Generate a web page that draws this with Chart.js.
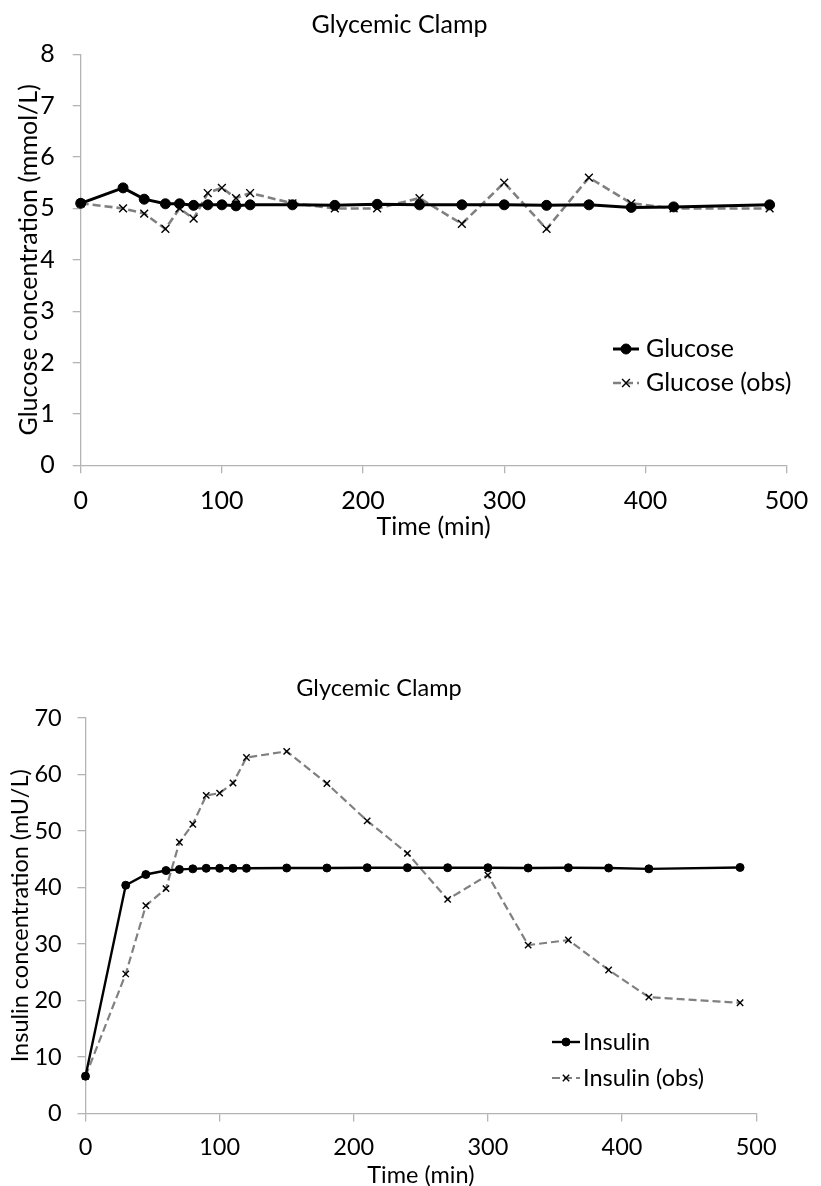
<!DOCTYPE html>
<html>
<head>
<meta charset="utf-8">
<script src="https://cdn.jsdelivr.net/npm/chart.js@4.4.1/dist/chart.umd.min.js"></script>
<style>
  html, body { margin: 0; padding: 0; background: #fff; overflow: hidden; }
  body { position: relative; width: 821px; height: 1186px; }
  canvas { position: absolute; left: 0; }
  #glucoseChart { top: 0; }
  #insulinChart { top: 640px; }
</style>
</head>
<body>
<canvas id="glucoseChart" width="821" height="560"></canvas>
<canvas id="insulinChart" width="788" height="560"></canvas>
<script>
// sampling times (min), shared by both panels
const times = [0, 30, 45, 60, 70, 80, 90, 100, 110, 120, 150, 180, 210, 240, 270, 300, 330, 360, 390, 420, 488];

// glucose (mmol/L)
const glucose    = [5.10, 5.40, 5.18, 5.09, 5.09, 5.06, 5.07, 5.07, 5.05, 5.07, 5.07, 5.06, 5.08, 5.07, 5.07, 5.07, 5.06, 5.07, 5.02, 5.03, 5.07];
const glucoseObs = [5.1, 5.0, 4.9, 4.6, 5.0, 4.8, 5.3, 5.4, 5.2, 5.3, 5.1, 5.0, 5.0, 5.2, 4.7, 5.5, 4.6, 5.6, 5.1, 5.0, 5.0];

// insulin (mU/L)
const insulin    = [6.6, 40.4, 42.3, 43.0, 43.2, 43.3, 43.4, 43.4, 43.4, 43.4, 43.45, 43.45, 43.5, 43.5, 43.5, 43.5, 43.45, 43.5, 43.45, 43.3, 43.55];
const insulinObs = [6.6, 24.7, 36.8, 39.8, 48.0, 51.2, 56.3, 56.7, 58.5, 63.0, 64.1, 58.4, 51.8, 46.05, 37.9, 42.2, 29.8, 30.7, 25.4, 20.6, 19.6];

const FONT = 'Lato, "Open Sans", sans-serif';
const AXIS_GREY = '#b4b4b4';

const toPoints = (ys) => times.map((t, i) => ({ x: t, y: ys[i] }));

// small legend drawn inside the plot, Excel style
const inlineLegend = {
    id: 'inlineLegend',
    afterDraw(chart, args, opts) {
        const ctx = chart.ctx;
        chart.data.datasets.forEach((ds, i) => {
            const y = opts.y + i * opts.gap;
            ctx.save();
            ctx.strokeStyle = ds.borderColor;
            ctx.lineWidth = ds.borderWidth;
            ctx.setLineDash(ds.borderDash || []);
            ctx.beginPath();
            ctx.moveTo(opts.x, y);
            ctx.lineTo(opts.x + opts.w, y);
            ctx.stroke();
            ctx.restore();

            ctx.save();
            ctx.fillStyle = ds.pointBackgroundColor;
            ctx.strokeStyle = ds.pointBorderColor;
            ctx.lineWidth = ds.pointBorderWidth;
            Chart.helpers.drawPoint(ctx, {
                pointStyle: ds.pointStyle,
                radius: ds.pointRadius,
                borderWidth: ds.pointBorderWidth,
                rotation: 0
            }, opts.x + opts.w / 2, y);
            ctx.restore();

            ctx.save();
            ctx.fillStyle = '#000';
            ctx.font = opts.fontSize + 'px ' + FONT;
            ctx.textBaseline = 'middle';
            ctx.fillText(ds.label, opts.textX, y);
            ctx.restore();
        });
    }
};

function makeChart(id, s) {
    const ctx = document.getElementById(id);
    return new Chart(ctx.getContext('2d'), {
        type: 'line',
        data: {
            datasets: [
                {
                    label: s.labels[0],
                    data: toPoints(s.model),
                    borderColor: '#000',
                    borderWidth: s.lineW,
                    pointStyle: 'circle',
                    pointRadius: s.dotR,
                    pointBackgroundColor: '#000',
                    pointBorderColor: '#000',
                    pointBorderWidth: 1,
                    tension: 0,
                    clip: false
                },
                {
                    label: s.labels[1],
                    data: toPoints(s.obs),
                    borderColor: '#808080',
                    borderWidth: s.dashW,
                    borderDash: [8, 4],
                    pointStyle: 'crossRot',
                    pointRadius: s.crossR,
                    pointBackgroundColor: '#000',
                    pointBorderColor: '#000',
                    pointBorderWidth: 1.4,
                    tension: 0,
                    clip: false
                }
            ]
        },
        options: {
            responsive: false,
            animation: false,
            events: [],
            layout: { padding: { left: 0, right: s.padRight, top: 0, bottom: 0 } },
            plugins: {
                legend: { display: false },
                tooltip: { enabled: false },
                title: {
                    display: true,
                    text: 'Glycemic Clamp',
                    color: '#000',
                    font: { family: FONT, size: s.font, weight: 'normal' },
                    padding: s.titlePad
                },
                inlineLegend: s.legend
            },
            scales: {
                x: {
                    type: 'linear',
                    min: 0,
                    max: 500,
                    afterFit: (scale) => { scale.height = s.xHeight; },
                    ticks: {
                        stepSize: 100,
                        color: '#000',
                        padding: s.xTickPad,
                        font: { family: FONT, size: s.font }
                    },
                    grid: { drawOnChartArea: false, drawTicks: true, tickLength: 8, color: AXIS_GREY, lineWidth: 1.3 },
                    border: { color: AXIS_GREY, width: 1.3 },
                    title: {
                        display: true,
                        text: 'Time (min)',
                        color: '#000',
                        font: { family: FONT, size: s.font },
                        padding: { top: 0, bottom: s.xTitlePad }
                    }
                },
                y: {
                    min: 0,
                    max: s.yMax,
                    afterFit: (scale) => { scale.width = s.yWidth; },
                    ticks: {
                        stepSize: s.yStep,
                        color: '#000',
                        padding: s.yTickPad,
                        font: { family: FONT, size: s.font }
                    },
                    grid: { drawOnChartArea: false, drawTicks: true, tickLength: 8, color: AXIS_GREY, lineWidth: 1.3 },
                    border: { color: AXIS_GREY, width: 1.3 },
                    title: {
                        display: true,
                        text: s.yTitle,
                        color: '#000',
                        font: { family: FONT, size: s.font },
                        padding: { top: s.yTitlePad, bottom: 0 }
                    }
                }
            }
        },
        plugins: [inlineLegend]
    });
}

makeChart('glucoseChart', {
    labels: ['Glucose', 'Glucose (obs)'],
    model: glucose,
    obs: glucoseObs,
    yMax: 8,
    yStep: 1,
    yTitle: 'Glucose concentration (mmol/L)',
    font: 25,
    lineW: 3,
    dashW: 2.6,
    dotR: 5,
    crossR: 5.5,
    padRight: 22,
    titlePad: { top: 10, bottom: 14.3 },
    yWidth: 80.7,
    xHeight: 94.7,
    xTickPad: 12.7,
    xTitlePad: 18,
    yTitlePad: 14,
    yTickPad: 18,
    legend: { x: 613, w: 26, textX: 646, y: 349, gap: 34, fontSize: 25 }
});

makeChart('insulinChart', {
    labels: ['Insulin', 'Insulin (obs)'],
    model: insulin,
    obs: insulinObs,
    yMax: 70,
    yStep: 10,
    yTitle: 'Insulin concentration (mU/L)',
    font: 23.5,
    lineW: 2.4,
    dashW: 2.2,
    dotR: 4,
    crossR: 4.5,
    padRight: 30,
    titlePad: { top: 33.9, bottom: 15.9 },
    yWidth: 85.5,
    xHeight: 86.5,
    xTickPad: 11.4,
    xTitlePad: 10.9,
    yTitlePad: 6.4,
    yTickPad: 15.8,
    legend: { x: 552, w: 28, textX: 583, y: 402, gap: 36, fontSize: 23.5 }
});
</script>
</body>
</html>
